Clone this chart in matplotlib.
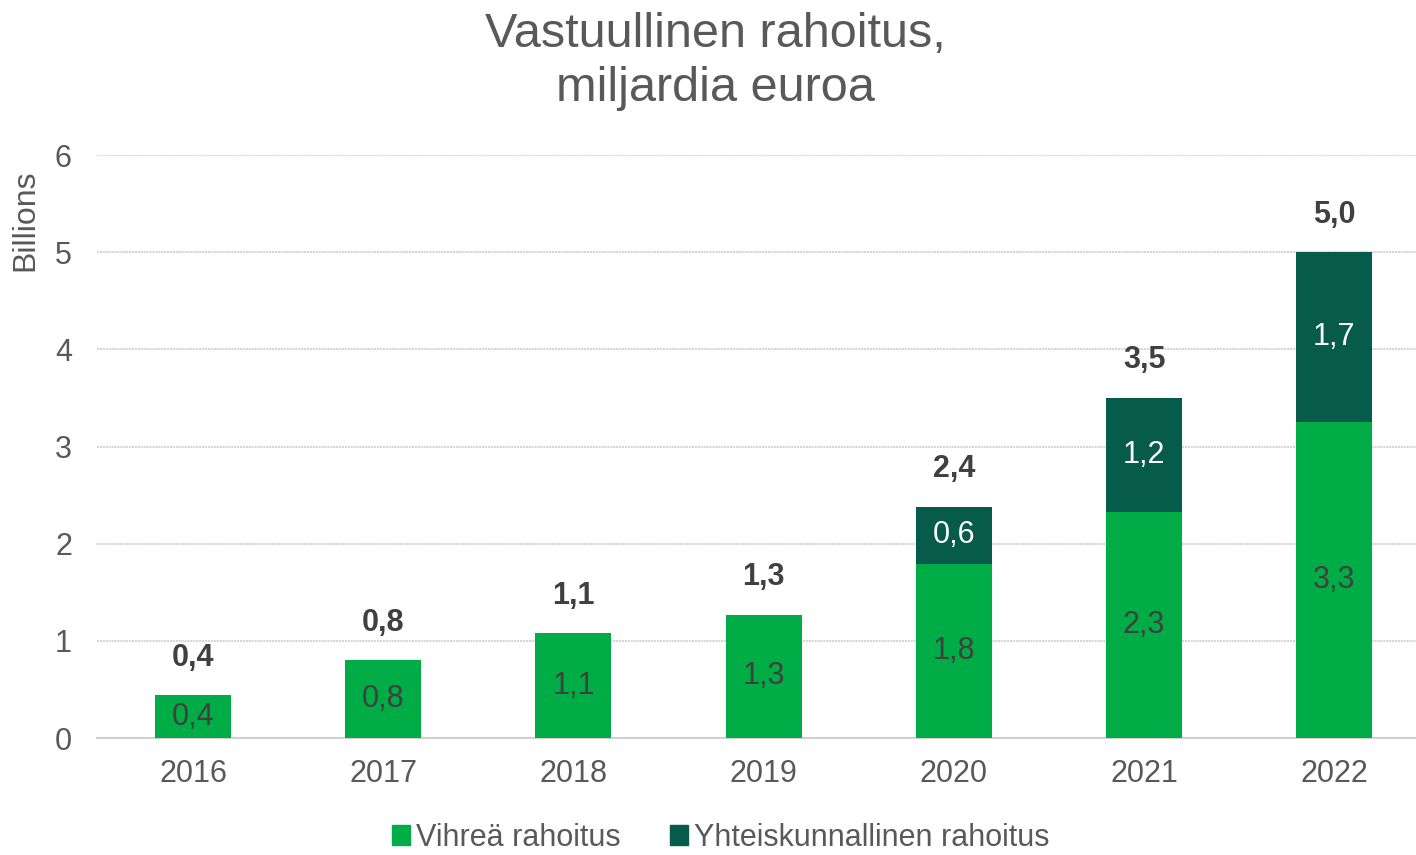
"""Vastuullinen rahoitus -pylväskaavio"""
import matplotlib
matplotlib.use('Agg')
import matplotlib.pyplot as plt
from matplotlib.patches import Patch

plt.rcParams['font.family'] = ['Liberation Sans', 'DejaVu Sans']

years = ['2016', '2017', '2018', '2019', '2020', '2021', '2022']
green = [0.44, 0.80, 1.08, 1.27, 1.79, 2.33, 3.25]
social = [0.0, 0.0, 0.0, 0.0, 0.59, 1.17, 1.75]
green_labels = ['0,4', '0,8', '1,1', '1,3', '1,8', '2,3', '3,3']
social_labels = ['', '', '', '', '0,6', '1,2', '1,7']
total_labels = ['0,4', '0,8', '1,1', '1,3', '2,4', '3,5', '5,0']

GREEN = '#00AC45'
DARK = '#075B4B'
TEXT = '#595959'

fig = plt.figure(figsize=(14.16, 8.55), dpi=100)
ax = fig.add_axes([0.0685, 0.1368, 0.9315, 0.6819])

x = list(range(len(years)))
ax.bar(x, green, 0.4, color=GREEN, zorder=3)
ax.bar(x, social, 0.4, bottom=green, color=DARK, zorder=3)

for i in x:
    ax.text(i, green[i] / 2, green_labels[i], ha='center', va='center',
            fontsize=22, color='#404040', zorder=4)
    if social[i] > 0:
        ax.text(i, green[i] + social[i] / 2, social_labels[i], ha='center',
                va='center', fontsize=22, color='white', zorder=4)
    ax.annotate(total_labels[i], (i, green[i] + social[i]), xytext=(0, 27),
                textcoords='offset points', ha='center', va='center',
                fontsize=22, fontweight='bold', color='#404040')

ax.set_xlim(-0.505, 6.43)
ax.set_ylim(0, 6)
ax.set_xticks(x)
ax.set_xticklabels(years)
ax.set_yticks(range(7))
ax.tick_params(axis='both', length=0, labelsize=22, labelcolor=TEXT)
ax.tick_params(axis='y', pad=18)
ax.tick_params(axis='x', pad=15)
for s in ['top', 'right', 'left']:
    ax.spines[s].set_visible(False)
ax.spines['bottom'].set_color('#D0D0D0')
ax.spines['bottom'].set_linewidth(1.5)
ax.yaxis.grid(True, color='#D6D6D6', linewidth=1.5, linestyle=(0, (1, 0.4)), zorder=0)
ax.set_axisbelow(True)

fig.text(0.505, 0.928, 'Vastuullinen rahoitus,\nmiljardia euroa', ha='center',
         va='center', fontsize=35, color=TEXT, linespacing=1.27)
fig.text(0.018, 0.742, 'Billions', rotation=90, ha='center', va='center',
         fontsize=23, color=TEXT)

handles = [Patch(color=GREEN, label='Vihreä rahoitus'),
           Patch(color=DARK, label='Yhteiskunnallinen rahoitus')]
fig.legend(handles=handles, loc='center', bbox_to_anchor=(0.509, 0.02),
           ncol=2, frameon=False, fontsize=22, labelcolor=TEXT,
           handlelength=0.6, handleheight=0.6, handletextpad=0.2,
           columnspacing=1.6, borderpad=0.1)

fig.savefig('out.png', dpi=100)
